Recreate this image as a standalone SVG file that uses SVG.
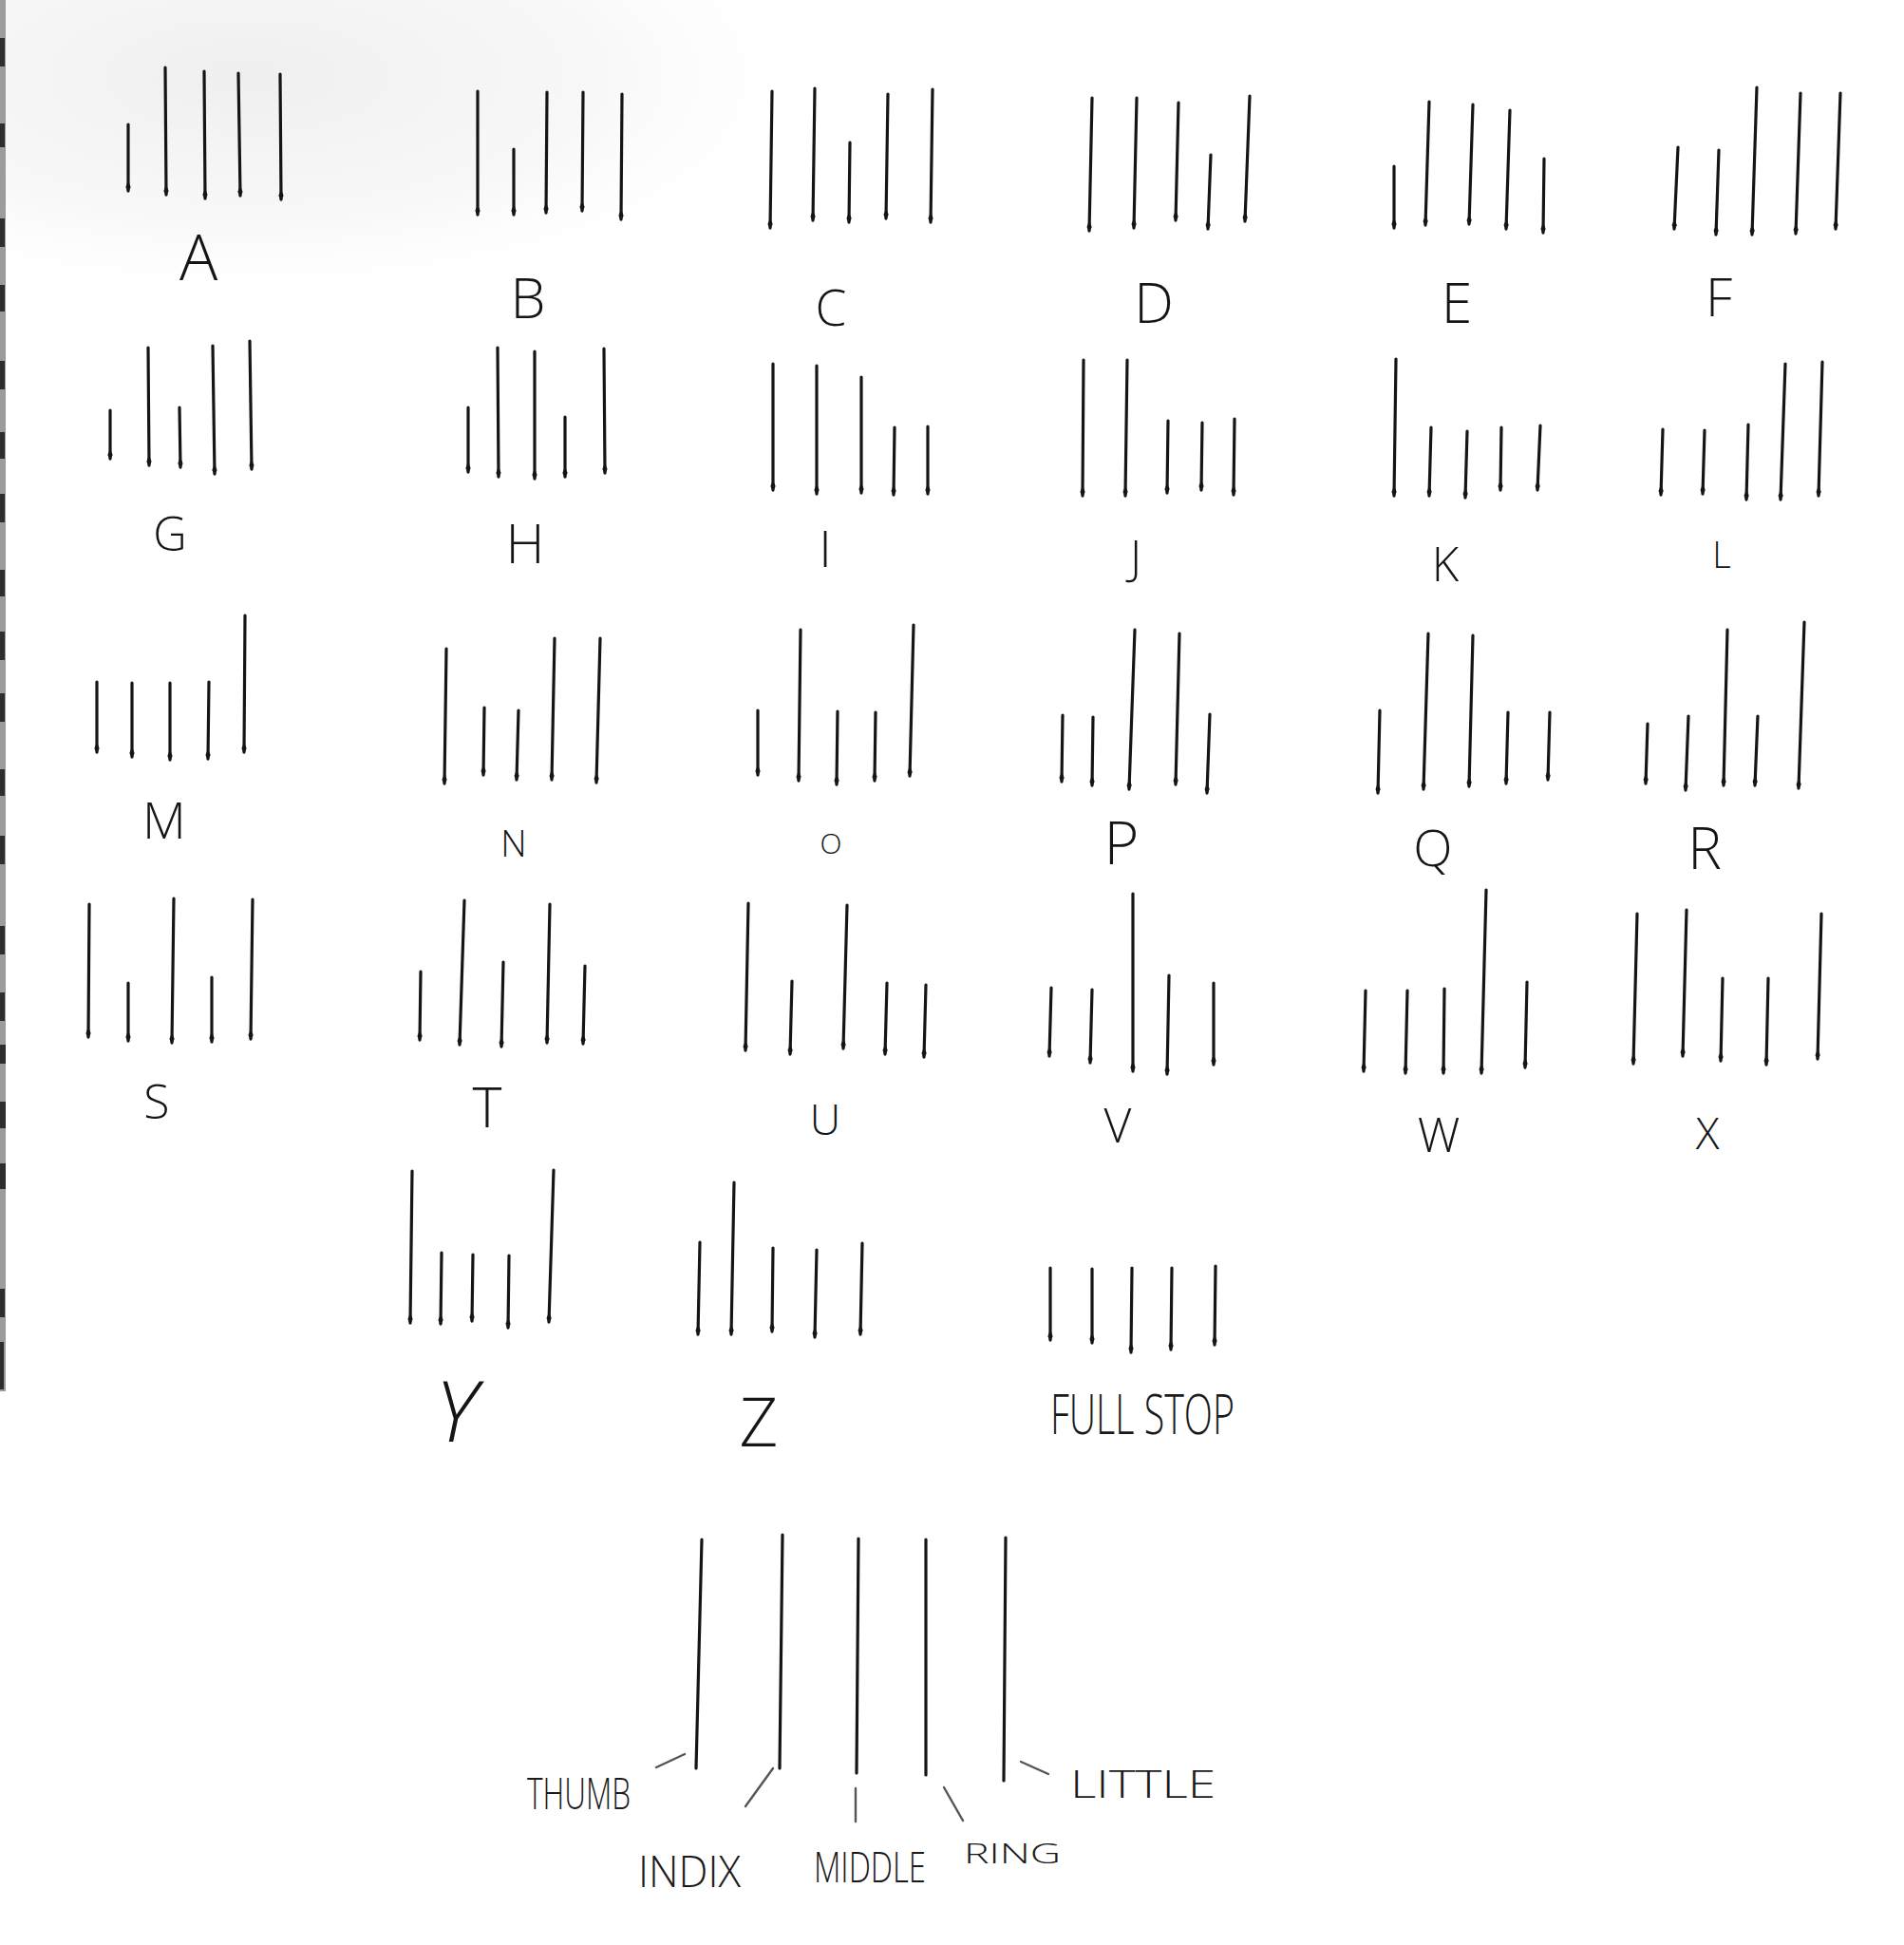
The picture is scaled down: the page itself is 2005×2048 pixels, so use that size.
<svg xmlns="http://www.w3.org/2000/svg" width="2005" height="2048" viewBox="0 0 2005 2048">
<defs>
<style>
.t{stroke:#151515;stroke-width:3.2;stroke-linecap:round;fill:none;marker-end:url(#tip)}
.h{stroke:#151515;stroke-width:3.2;stroke-linecap:round;fill:none}
.c{stroke:#555;stroke-width:2.4;stroke-linecap:round;fill:none}
.lb{font-family:"Open Sans","Liberation Sans",sans-serif;font-weight:300;fill:#151515;text-anchor:middle}
.bl{font-family:"Open Sans","Liberation Sans",sans-serif;font-weight:300;fill:#1a1a1a}
</style>
<marker id="tip" viewBox="-12 -4 16 8" refX="0" refY="0" markerWidth="16" markerHeight="8" markerUnits="userSpaceOnUse" orient="auto">
<path d="M-11,0 L-4,-2.6 L2,0 L-4,2.6 Z" fill="#151515"/>
</marker>
<radialGradient id="mottle" cx="0.5" cy="0.5" r="0.5">
<stop offset="0" stop-color="#e8e8e8" stop-opacity="0.7"/>
<stop offset="0.6" stop-color="#efefef" stop-opacity="0.45"/>
<stop offset="1" stop-color="#ffffff" stop-opacity="0"/>
</radialGradient>
</defs>
<rect width="2005" height="2048" fill="#ffffff"/>
<ellipse cx="260" cy="80" rx="620" ry="250" fill="url(#mottle)"/>
<g id="edge">
<rect x="0" y="0" width="6" height="1465" fill="#9c9c9c"/>
<g fill="#2e2e2e">
<rect x="0" y="40" width="5" height="30"/><rect x="0" y="130" width="5" height="25"/>
<rect x="0" y="230" width="5" height="30"/><rect x="0" y="300" width="5" height="28"/>
<rect x="0" y="380" width="5" height="30"/><rect x="0" y="455" width="5" height="28"/>
<rect x="0" y="520" width="5" height="30"/><rect x="0" y="600" width="5" height="28"/>
<rect x="0" y="665" width="5" height="30"/><rect x="0" y="730" width="5" height="30"/>
<rect x="0" y="810" width="5" height="28"/><rect x="0" y="880" width="5" height="30"/>
<rect x="0" y="975" width="5" height="30"/><rect x="0" y="1045" width="5" height="30"/>
<rect x="0" y="1100" width="6" height="20"/><rect x="0" y="1160" width="6" height="28"/>
<rect x="0" y="1225" width="6" height="27"/><rect x="0" y="1357" width="5" height="30"/>
<rect x="0" y="1413" width="4" height="50"/>
</g>
</g>

<g id="letter-A">
<line class="t" x1="135" y1="131" x2="135" y2="201"/>
<line class="t" x1="174" y1="71" x2="175" y2="205"/>
<line class="t" x1="215" y1="75" x2="216" y2="209"/>
<line class="t" x1="251" y1="77" x2="253" y2="206"/>
<line class="t" x1="295" y1="78" x2="296" y2="210"/>
<text class="lb" x="209" y="295" font-size="67">A</text>
</g>
<g id="letter-B">
<line class="t" x1="503" y1="96" x2="503" y2="226"/>
<line class="t" x1="541" y1="157" x2="541" y2="226"/>
<line class="t" x1="576" y1="97" x2="575" y2="224"/>
<line class="t" x1="614" y1="97" x2="613" y2="222"/>
<line class="t" x1="655" y1="99" x2="654" y2="231"/>
<text class="lb" x="556" y="335" font-size="59">B</text>
</g>
<g id="letter-C">
<line class="t" x1="813" y1="96" x2="811" y2="240"/>
<line class="t" x1="858" y1="93" x2="856" y2="232"/>
<line class="t" x1="895" y1="150" x2="894" y2="234"/>
<line class="t" x1="935" y1="99" x2="933" y2="230"/>
<line class="t" x1="982" y1="94" x2="980" y2="234"/>
<text class="lb" x="875" y="343" font-size="53">C</text>
</g>
<g id="letter-D">
<line class="t" x1="1150" y1="103" x2="1147" y2="243"/>
<line class="t" x1="1197" y1="103" x2="1194" y2="240"/>
<line class="t" x1="1241" y1="108" x2="1238" y2="232"/>
<line class="t" x1="1275" y1="163" x2="1272" y2="241"/>
<line class="t" x1="1316" y1="101" x2="1311" y2="233"/>
<text class="lb" x="1215" y="340" font-size="59">D</text>
</g>
<g id="letter-E">
<line class="t" x1="1468" y1="175" x2="1468" y2="240"/>
<line class="t" x1="1505" y1="107" x2="1501" y2="237"/>
<line class="t" x1="1551" y1="110" x2="1547" y2="236"/>
<line class="t" x1="1590" y1="116" x2="1586" y2="241"/>
<line class="t" x1="1626" y1="167" x2="1625" y2="245"/>
<text class="lb" x="1534" y="340" font-size="59">E</text>
</g>
<g id="letter-F">
<line class="t" x1="1767" y1="155" x2="1763" y2="241"/>
<line class="t" x1="1810" y1="158" x2="1807" y2="247"/>
<line class="t" x1="1850" y1="92" x2="1845" y2="247"/>
<line class="t" x1="1896" y1="98" x2="1891" y2="246"/>
<line class="t" x1="1938" y1="98" x2="1933" y2="241"/>
<text class="lb" x="1810" y="333" font-size="56">F</text>
</g>

<g id="letter-G">
<line class="t" x1="116" y1="432" x2="116" y2="483"/>
<line class="t" x1="156" y1="366" x2="157" y2="490"/>
<line class="t" x1="189" y1="429" x2="190" y2="492"/>
<line class="t" x1="224" y1="364" x2="226" y2="499"/>
<line class="t" x1="263" y1="359" x2="265" y2="494"/>
<text class="lb" x="179" y="580" font-size="49">G</text>
</g>
<g id="letter-H">
<line class="t" x1="493" y1="429" x2="493" y2="497"/>
<line class="t" x1="524" y1="366" x2="525" y2="502"/>
<line class="t" x1="563" y1="370" x2="563" y2="504"/>
<line class="t" x1="595" y1="439" x2="595" y2="502"/>
<line class="t" x1="636" y1="367" x2="637" y2="498"/>
<text class="lb" x="553" y="593" font-size="57">H</text>
</g>
<g id="letter-I">
<line class="t" x1="814" y1="383" x2="814" y2="516"/>
<line class="t" x1="860" y1="385" x2="860" y2="520"/>
<line class="t" x1="907" y1="397" x2="907" y2="519"/>
<line class="t" x1="942" y1="450" x2="941" y2="521"/>
<line class="t" x1="977" y1="449" x2="977" y2="520"/>
<text class="lb" x="869" y="597" font-size="54">I</text>
</g>
<g id="letter-J">
<line class="t" x1="1141" y1="379" x2="1140" y2="522"/>
<line class="t" x1="1187" y1="379" x2="1185" y2="522"/>
<line class="t" x1="1230" y1="443" x2="1229" y2="519"/>
<line class="t" x1="1266" y1="445" x2="1265" y2="516"/>
<line class="t" x1="1300" y1="441" x2="1299" y2="521"/>
<text class="lb" x="1196" y="605" font-size="49">J</text>
</g>
<g id="letter-K">
<line class="t" x1="1470" y1="378" x2="1468" y2="522"/>
<line class="t" x1="1507" y1="450" x2="1505" y2="522"/>
<line class="t" x1="1545" y1="454" x2="1543" y2="524"/>
<line class="t" x1="1581" y1="450" x2="1580" y2="516"/>
<line class="t" x1="1622" y1="448" x2="1619" y2="516"/>
<text class="lb" x="1522" y="612" font-size="49">K</text>
</g>
<g id="letter-L">
<line class="t" x1="1751" y1="452" x2="1749" y2="521"/>
<line class="t" x1="1795" y1="453" x2="1793" y2="520"/>
<line class="t" x1="1841" y1="447" x2="1839" y2="526"/>
<line class="t" x1="1880" y1="383" x2="1875" y2="526"/>
<line class="t" x1="1919" y1="381" x2="1915" y2="522"/>
<text class="lb" x="1813" y="598" font-size="38">L</text>
</g>

<g id="letter-M">
<line class="t" x1="102" y1="718" x2="102" y2="792"/>
<line class="t" x1="139" y1="719" x2="139" y2="797"/>
<line class="t" x1="179" y1="719" x2="179" y2="800"/>
<line class="t" x1="220" y1="718" x2="219" y2="799"/>
<line class="t" x1="258" y1="648" x2="257" y2="792"/>
<text class="lb" x="173" y="883" font-size="53">M</text>
</g>
<g id="letter-N">
<line class="t" x1="470" y1="683" x2="468" y2="825"/>
<line class="t" x1="510" y1="745" x2="509" y2="816"/>
<line class="t" x1="546" y1="748" x2="544" y2="821"/>
<line class="t" x1="584" y1="672" x2="581" y2="821"/>
<line class="t" x1="632" y1="672" x2="628" y2="824"/>
<text class="lb" x="541" y="902" font-size="38">N</text>
</g>
<g id="letter-O">
<line class="t" x1="798" y1="748" x2="798" y2="816"/>
<line class="t" x1="843" y1="663" x2="841" y2="822"/>
<line class="t" x1="882" y1="749" x2="881" y2="826"/>
<line class="t" x1="922" y1="750" x2="921" y2="822"/>
<line class="t" x1="962" y1="658" x2="958" y2="817"/>
<text class="lb" x="875" y="899" font-size="30">O</text>
</g>
<g id="letter-P">
<line class="t" x1="1119" y1="753" x2="1118" y2="823"/>
<line class="t" x1="1151" y1="755" x2="1150" y2="827"/>
<line class="t" x1="1195" y1="663" x2="1189" y2="831"/>
<line class="t" x1="1242" y1="667" x2="1238" y2="826"/>
<line class="t" x1="1274" y1="752" x2="1271" y2="835"/>
<text class="lb" x="1181" y="910" font-size="63">P</text>
</g>
<g id="letter-Q">
<line class="t" x1="1453" y1="748" x2="1451" y2="835"/>
<line class="t" x1="1504" y1="667" x2="1499" y2="831"/>
<line class="t" x1="1551" y1="669" x2="1547" y2="828"/>
<line class="t" x1="1588" y1="750" x2="1586" y2="825"/>
<line class="t" x1="1632" y1="750" x2="1630" y2="821"/>
<text class="lb" x="1509" y="912" font-size="54">Q</text>
</g>
<g id="letter-R">
<line class="t" x1="1735" y1="762" x2="1733" y2="825"/>
<line class="t" x1="1778" y1="754" x2="1775" y2="832"/>
<line class="t" x1="1819" y1="663" x2="1815" y2="827"/>
<line class="t" x1="1851" y1="754" x2="1848" y2="827"/>
<line class="t" x1="1900" y1="655" x2="1894" y2="830"/>
<text class="lb" x="1795" y="915" font-size="60">R</text>
</g>

<g id="letter-S">
<line class="t" x1="94" y1="952" x2="93" y2="1092"/>
<line class="t" x1="135" y1="1035" x2="135" y2="1096"/>
<line class="t" x1="183" y1="946" x2="181" y2="1098"/>
<line class="t" x1="223" y1="1029" x2="223" y2="1097"/>
<line class="t" x1="266" y1="947" x2="264" y2="1094"/>
<text class="lb" x="165" y="1178" font-size="50">S</text>
</g>
<g id="letter-T">
<line class="t" x1="443" y1="1023" x2="442" y2="1095"/>
<line class="t" x1="489" y1="948" x2="484" y2="1100"/>
<line class="t" x1="530" y1="1013" x2="528" y2="1102"/>
<line class="t" x1="579" y1="952" x2="576" y2="1098"/>
<line class="t" x1="616" y1="1017" x2="614" y2="1099"/>
<text class="lb" x="513" y="1187" font-size="59">T</text>
</g>
<g id="letter-U">
<line class="t" x1="788" y1="951" x2="785" y2="1106"/>
<line class="t" x1="834" y1="1033" x2="832" y2="1110"/>
<line class="t" x1="892" y1="953" x2="888" y2="1104"/>
<line class="t" x1="934" y1="1035" x2="932" y2="1110"/>
<line class="t" x1="975" y1="1037" x2="973" y2="1113"/>
<text class="lb" x="869" y="1195" font-size="45">U</text>
</g>
<g id="letter-V">
<line class="t" x1="1107" y1="1040" x2="1105" y2="1112"/>
<line class="t" x1="1150" y1="1042" x2="1148" y2="1119"/>
<line class="t" x1="1193" y1="941" x2="1193" y2="1128"/>
<line class="t" x1="1231" y1="1027" x2="1229" y2="1131"/>
<line class="t" x1="1278" y1="1035" x2="1278" y2="1121"/>
<text class="lb" x="1177" y="1203" font-size="50">V</text>
</g>
<g id="letter-W">
<line class="t" x1="1438" y1="1043" x2="1436" y2="1128"/>
<line class="t" x1="1482" y1="1043" x2="1480" y2="1130"/>
<line class="t" x1="1521" y1="1041" x2="1520" y2="1130"/>
<line class="t" x1="1565" y1="937" x2="1560" y2="1130"/>
<line class="t" x1="1608" y1="1034" x2="1606" y2="1124"/>
<text class="lb" x="1515" y="1213" font-size="50">W</text>
</g>
<g id="letter-X">
<line class="t" x1="1724" y1="962" x2="1720" y2="1120"/>
<line class="t" x1="1776" y1="958" x2="1772" y2="1112"/>
<line class="t" x1="1814" y1="1030" x2="1812" y2="1117"/>
<line class="t" x1="1862" y1="1030" x2="1860" y2="1121"/>
<line class="t" x1="1918" y1="962" x2="1914" y2="1115"/>
<text class="lb" x="1798" y="1210" font-size="46">X</text>
</g>

<g id="letter-Y">
<line class="t" x1="434" y1="1233" x2="432" y2="1393"/>
<line class="t" x1="465" y1="1319" x2="464" y2="1394"/>
<line class="t" x1="498" y1="1321" x2="497" y2="1391"/>
<line class="t" x1="536" y1="1322" x2="535" y2="1398"/>
<line class="t" x1="583" y1="1232" x2="578" y2="1392"/>
<text class="lb" x="480" y="1518" font-size="88" font-style="italic">Y</text>
</g>
<g id="letter-Z">
<line class="t" x1="737" y1="1308" x2="735" y2="1405"/>
<line class="t" x1="773" y1="1245" x2="770" y2="1405"/>
<line class="t" x1="814" y1="1314" x2="813" y2="1402"/>
<line class="t" x1="860" y1="1316" x2="858" y2="1408"/>
<line class="t" x1="908" y1="1309" x2="906" y2="1405"/>
<text class="lb" x="799" y="1523" font-size="71">Z</text>
</g>
<g id="full-stop">
<line class="t" x1="1106" y1="1335" x2="1106" y2="1411"/>
<line class="t" x1="1150" y1="1336" x2="1150" y2="1414"/>
<line class="t" x1="1192" y1="1335" x2="1191" y2="1424"/>
<line class="t" x1="1234" y1="1335" x2="1233" y2="1421"/>
<line class="t" x1="1280" y1="1333" x2="1279" y2="1416"/>
<text class="bl" x="1106" y="1510" font-size="58" textLength="194" lengthAdjust="spacingAndGlyphs">FULL STOP</text>
</g>

<g id="hand-key">
<line class="h" x1="739" y1="1621" x2="733" y2="1862"/>
<line class="h" x1="824" y1="1616" x2="821" y2="1862"/>
<line class="h" x1="904" y1="1620" x2="902" y2="1867"/>
<line class="h" x1="975" y1="1621" x2="975" y2="1869"/>
<line class="h" x1="1059" y1="1619" x2="1057" y2="1875"/>
</g>
<g id="connectors">
<line class="c" x1="691" y1="1861" x2="721" y2="1847"/>
<line class="c" x1="814" y1="1862" x2="785" y2="1902"/>
<line class="c" x1="901" y1="1883" x2="901" y2="1918"/>
<line class="c" x1="994" y1="1882" x2="1014" y2="1917"/>
<line class="c" x1="1075" y1="1855" x2="1104" y2="1868"/>
</g>
<g id="finger-labels">
<text id="lbl-thumb" class="bl" x="555" y="1905" font-size="46" textLength="109" lengthAdjust="spacingAndGlyphs">THUMB</text>
<text id="lbl-index" class="bl" x="672" y="1987" font-size="46" textLength="108" lengthAdjust="spacingAndGlyphs">INDIX</text>
<text id="lbl-middle" class="bl" x="857" y="1982" font-size="44" textLength="118" lengthAdjust="spacingAndGlyphs">MIDDLE</text>
<text id="lbl-ring" class="bl" x="1015" y="1962" font-size="30" textLength="102" lengthAdjust="spacingAndGlyphs">RING</text>
<text id="lbl-little" class="bl" x="1127" y="1893" font-size="40" textLength="153" lengthAdjust="spacingAndGlyphs">LITTLE</text>
</g>
</svg>
